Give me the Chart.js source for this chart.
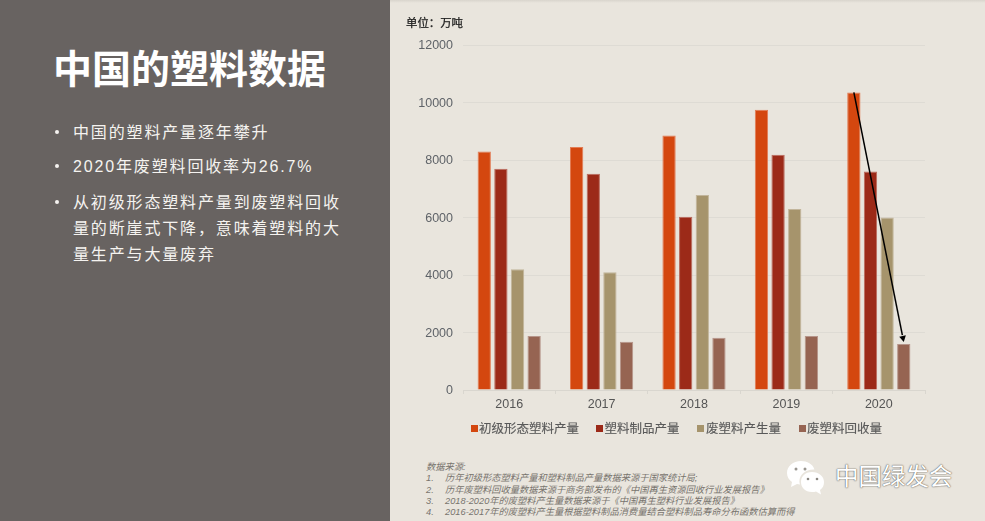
<!DOCTYPE html>
<html lang="zh"><head><meta charset="utf-8">
<script src="https://cdn.jsdelivr.net/npm/chart.js@4"></script>
<style>
html,body{margin:0;padding:0;width:985px;height:521px;overflow:hidden;background:#E9E5DD;font-family:"Liberation Sans","Noto Sans CJK SC",sans-serif}
#left{position:absolute;left:0;top:0;width:390px;height:521px;background:#686361;color:#fff}
#title{position:absolute;left:53px;top:45px;font:700 39px/50px "Liberation Sans","Noto Sans CJK SC",sans-serif;white-space:nowrap}
.bl{position:absolute;left:73px;font-size:16px;line-height:25px;letter-spacing:1.85px;color:#f5f3f0;white-space:nowrap}
.dot{position:absolute;left:55px;width:4px;height:4px;border-radius:50%;background:#f5f3f0}
#topline{position:absolute;left:390px;top:0;width:595px;height:3px;background:linear-gradient(#d9d5cd,#E9E5DD)}
#chartBox{position:absolute;left:390px;top:0;width:595px;height:421px}
#unit{position:absolute;left:406px;top:15px;font-size:11.4px;line-height:16px;color:#1c1c1c;-webkit-text-stroke:.25px #1c1c1c;white-space:nowrap}
#legend{position:absolute;left:471px;top:419px;height:20px;font-size:12.5px;line-height:20px;color:#5a5a5a;white-space:nowrap;-webkit-text-stroke:.15px #5a5a5a}
#legend i{position:absolute;top:6px;width:7px;height:7px}
#legend b{position:absolute;top:0;font-weight:400}
#src{position:absolute;left:426px;top:462px;font-size:9.25px;line-height:11.3px;font-style:italic;color:#78746e;white-space:nowrap}
#src span{display:inline-block;width:16.500px}
#wm{position:absolute;left:835px;top:461px;font-size:23.5px;line-height:32px;color:#fff;white-space:nowrap;text-shadow:0 0 1.500px #5f5c58,0 0 1px #5f5c58}
#icon{position:absolute;left:786px;top:460px}
</style></head><body>
<div id="left">
<div id="title">中国的塑料数据</div>
<div class="dot" style="top:130px"></div><div class="bl" style="top:120px">中国的塑料产量逐年攀升</div>
<div class="dot" style="top:164px"></div><div class="bl" style="top:154px">2020年废塑料回收率为26.7%</div>
<div class="dot" style="top:200px"></div><div class="bl" style="top:190px">从初级形态塑料产量到废塑料回收</div>
<div class="bl" style="top:216px">量的断崖式下降，意味着塑料的大</div>
<div class="bl" style="top:242px">量生产与大量废弃</div>
</div>
<div id="topline"></div>
<div id="chartBox"><canvas id="c"></canvas></div>
<div id="unit">单位：万吨</div>
<div id="legend"></div>
<div id="src">数据来源:<br>
<span>1.</span>&nbsp;历年初级形态塑料产量和塑料制品产量数据来源于国家统计局;<br>
<span>2.</span>&nbsp;历年废塑料回收量数据来源于商务部发布的《中国再生资源回收行业发展报告》<br>
<span>3.</span>&nbsp;2018-2020年的废塑料产生量数据来源于《中国再生塑料行业发展报告》<br>
<span>4.</span>&nbsp;2016-2017年的废塑料产生量根据塑料制品消费量结合塑料制品寿命分布函数估算而得</div>
<svg id="icon" width="48" height="40" viewBox="0 0 48 40">
<path d="M15 1C7 1 1 6 1 13c0 4 2 7 5 9l-1 5 6-3c1 .3 2 .4 3 .5-.4-1-.6-2-.6-3 0-7 6-12 14-12h1C27 4 21 1 15 1z" fill="#fff"/>
<path d="M26 12c-7 0-11 4.500-11 10s4 10 11 10c1.500 0 3-.2 4-.6l5 3-1-4.400c3-2 4-4.800 4-8 0-5.500-5-10-12-10z" fill="#fff"/>
<circle cx="10" cy="9" r="1.500" fill="#9a9690"/><circle cx="19" cy="9" r="1.500" fill="#9a9690"/>
<circle cx="22" cy="19" r="1.300" fill="#8a8680"/><circle cx="31" cy="19" r="1.300" fill="#8a8680"/>
</svg>
<div id="wm">中国绿发会</div>
<script>
const categories = ["2016","2017","2018","2019","2020"];
const primaryOutput = [8300,8450,8850,9750,10350];
const productOutput = [7700,7520,6030,8180,7600];
const wasteGenerated = [4200,4100,6780,6300,6000];
const wasteRecycled = [1880,1680,1820,1880,1600];
const seriesNames = ["初级形态塑料产量","塑料制品产量","废塑料产生量","废塑料回收量"];
const seriesColors = ["#D4470F","#9C2A18","#A6946C","#966452"];
const seriesBorders = ["#E27C54","#BA6B5E","#C2B59B","#B6958A"];
const yTicks = [0,2000,4000,6000,8000,10000,12000];
const allSeries = [primaryOutput,productOutput,wasteGenerated,wasteRecycled];
const legendOffsets = [[0,8],[125,133.5],[226,235],[327.5,336]];
const legendEl = document.getElementById("legend");
seriesNames.forEach((n,i)=>{
  const sw=document.createElement("i");sw.style.left=legendOffsets[i][0]+"px";sw.style.background=seriesColors[i];legendEl.appendChild(sw);
  const t=document.createElement("b");t.style.left=legendOffsets[i][1]+"px";t.textContent=n;legendEl.appendChild(t);
});
const arrowPlugin = {id:"arrow",afterDatasetsDraw(chart){
  const a = chart.getDatasetMeta(0).data[4], b = chart.getDatasetMeta(3).data[4];
  const x1=a.x, y1=a.y, x2=b.x, y2=b.y-2;
  const ctx=chart.ctx, ang=Math.atan2(y2-y1,x2-x1), L=7;
  ctx.save();ctx.strokeStyle="#000";ctx.fillStyle="#000";ctx.lineWidth=1.5;
  ctx.beginPath();ctx.moveTo(x1,y1);ctx.lineTo(x2-Math.cos(ang)*L,y2-Math.sin(ang)*L);ctx.stroke();
  ctx.beginPath();ctx.moveTo(x2,y2);
  ctx.lineTo(x2-L*Math.cos(ang-0.5),y2-L*Math.sin(ang-0.5));
  ctx.lineTo(x2-L*Math.cos(ang+0.5),y2-L*Math.sin(ang+0.5));
  ctx.closePath();ctx.fill();ctx.restore();
}};
new Chart(document.getElementById("c"),{type:"bar",
 data:{labels:categories,datasets:allSeries.map((d,i)=>({label:seriesNames[i],data:d,backgroundColor:seriesColors[i],borderColor:seriesBorders[i],borderWidth:1,categoryPercentage:0.72,barPercentage:0.8}))},
 options:{responsive:true,maintainAspectRatio:false,animation:false,
  layout:{padding:{top:45,right:60,left:0,bottom:0}},
  plugins:{tooltip:{enabled:false},title:{display:false},legend:{display:false}},
  scales:{
   x:{afterFit(s){s.height=31},grid:{drawOnChartArea:false,drawTicks:true,tickLength:4,color:"#D9D6CF"},border:{color:"#D9D6CF"},ticks:{color:"#555",padding:3,font:{size:12.5,family:'"Liberation Sans",sans-serif'}}},
   y:{min:0,max:12000,afterFit(s){s.width=73},afterBuildTicks(s){s.ticks=yTicks.map(v=>({value:v}))},
      grid:{color:"#DEDBD4",drawTicks:false},border:{display:false},
      ticks:{color:"#5f6368",padding:10,labelOffset:1,callback:v=>String(v),font:{size:12.5,family:'"Liberation Sans",sans-serif'}}}
  }},plugins:[arrowPlugin]});
</script>
</body></html>
